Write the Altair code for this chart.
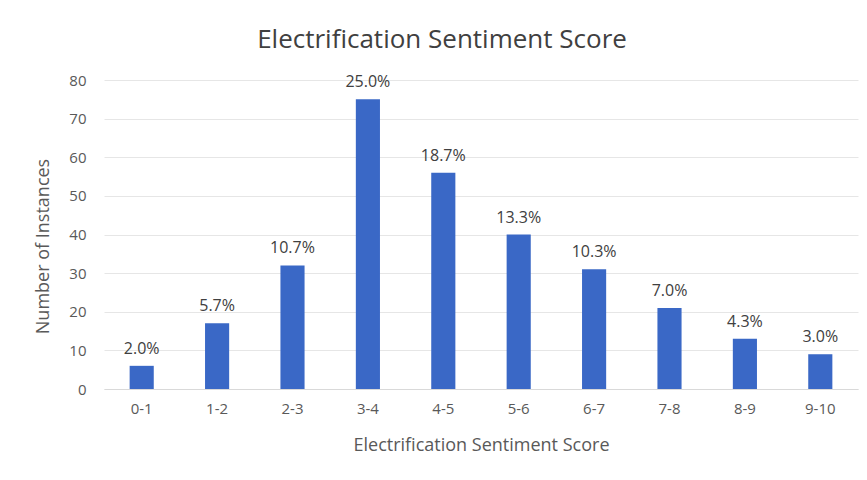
import altair as alt
import pandas as pd

categories = ["0-1", "1-2", "2-3", "3-4", "4-5", "5-6", "6-7", "7-8", "8-9", "9-10"]
counts = [6, 17, 32, 75, 56, 40, 31, 21, 13, 9]
pct_labels = ["2.0%", "5.7%", "10.7%", "25.0%", "18.7%", "13.3%", "10.3%", "7.0%", "4.3%", "3.0%"]
y_ticks = [0, 10, 20, 30, 40, 50, 60, 70, 80]

df = pd.DataFrame({"cat": categories, "count": counts, "pct": pct_labels})

font = "Open Sans"
xenc = alt.X("cat:N", sort=categories, title="Electrification Sentiment Score",
             scale=alt.Scale(paddingInner=0.68, paddingOuter=0.34),
             axis=alt.Axis(labelAngle=0, labelFontSize=15, labelColor="#595959", labelFont=font,
                           ticks=False, domainColor="#d9d9d9", labelPadding=12, grid=False,
                           titleFontSize=18, titleColor="#595959", titleFont=font,
                           titlePadding=20, titleFontWeight="normal"))
yenc = alt.Y("count:Q", title="Number of Instances",
             scale=alt.Scale(domain=[0, 80], nice=False),
             axis=alt.Axis(values=y_ticks, labelOverlap=False, labelFontSize=15,
                           labelColor="#595959", labelFont=font, ticks=False, domain=False,
                           gridColor="#e6e6e6", labelPadding=18, titleFontSize=18,
                           titleColor="#595959", titleFont=font, titleFontWeight="normal",
                           titlePadding=16, titleY=166))

base = alt.Chart(df).encode(x=xenc, y=yenc)
bars = base.mark_bar(color="#3a68c6")
labels = base.mark_text(dy=-17, fontSize=16, color="#404040", font=font).encode(text="pct:N")

chart = (bars + labels).properties(
    width=754, height=309,
    autosize=alt.AutoSizeParams(type="none"),
    padding={"left": 96, "top": 72, "right": 1, "bottom": 83},
    view=alt.ViewBackground(stroke="transparent", strokeWidth=0),
    title=alt.TitleParams("Electrification Sentiment Score", fontSize=26, font=font,
                          fontWeight="normal", color="#404040", offset=20, dx=-39),
).configure_view(strokeWidth=0, stroke="transparent").configure_axisX(grid=False).configure(background="white")

chart.save("out.html", embed_options={"renderer": "svg", "actions": False})
